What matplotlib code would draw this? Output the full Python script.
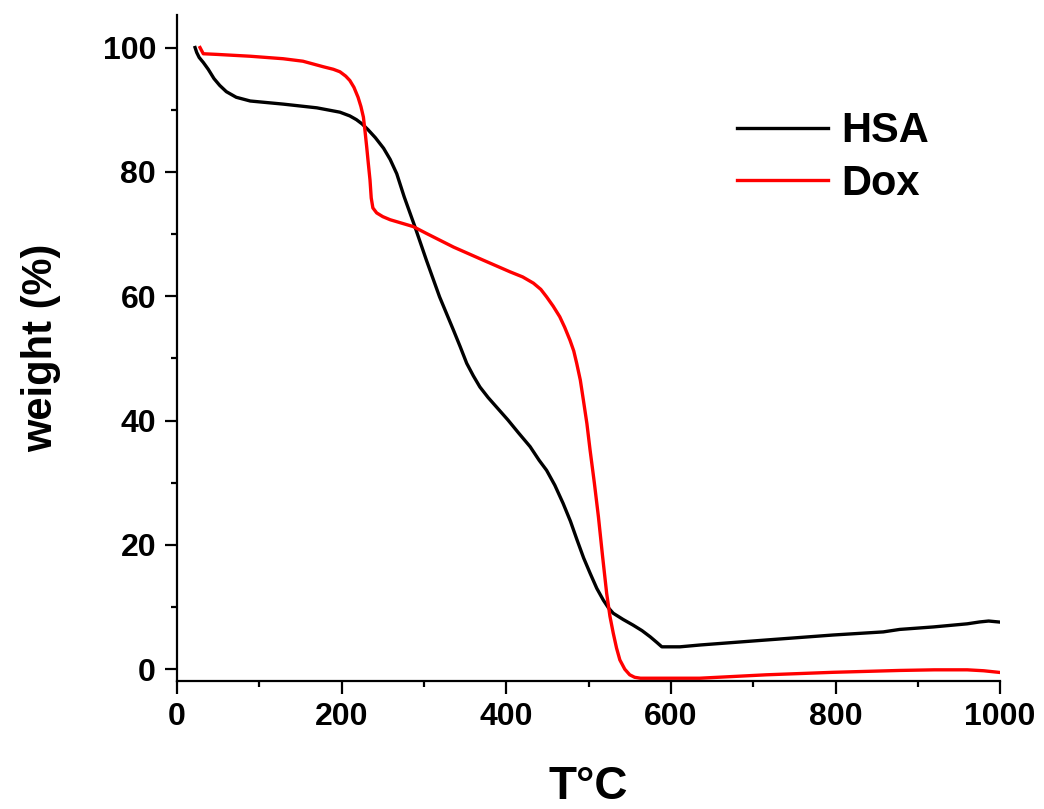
import matplotlib
matplotlib.use('Agg')
import matplotlib.pyplot as plt
from matplotlib.ticker import MultipleLocator

# TGA curves
hsa_t = [22, 24, 27, 32, 38, 45, 52, 60, 72, 89, 129, 170, 198, 210, 218, 225,
         232, 241, 251, 259, 267, 276, 289, 303, 319, 336, 344, 352, 360, 368,
         378, 388, 402, 415, 429, 440, 449, 459, 469, 478, 486, 494, 502, 510,
         518, 524, 530, 542, 554, 565, 575, 583, 589, 600, 611, 636, 716, 797,
         858, 878, 919, 960, 975, 986, 998]
hsa_w = [100, 99.2, 98.4, 97.6, 96.5, 95.0, 93.9, 92.9, 92.0, 91.4, 90.9, 90.3,
         89.6, 89.0, 88.4, 87.7, 86.8, 85.5, 83.8, 82.0, 79.7, 76.0, 71.2, 65.8,
         59.9, 54.5, 51.9, 49.2, 47.2, 45.4, 43.7, 42.2, 40.1, 38.0, 35.8, 33.6,
         32.0, 29.6, 26.7, 23.8, 20.8, 17.9, 15.4, 13.0, 11.1, 9.9, 9.0, 8.0, 7.1,
         6.2, 5.2, 4.3, 3.6, 3.6, 3.6, 3.9, 4.7, 5.5, 6.0, 6.4, 6.8, 7.3, 7.6,
         7.75, 7.6]

dox_t = [28, 32, 48, 89, 129, 153, 178, 190, 198, 205, 210, 215, 220, 223.5,
         226.5, 228.5, 230.5, 232.5, 234.5, 236, 238, 242.6, 250, 259, 287, 303,
         336, 372, 405, 420, 433, 442, 449, 457, 465, 471, 477.5, 482, 485.6,
         490, 493.7, 498, 501.8, 507, 512, 517, 522, 526, 530, 534, 538, 544,
         550, 556, 563, 611, 635, 716, 797, 878, 920, 960, 980, 998]
dox_w = [100, 99.0, 98.9, 98.6, 98.2, 97.8, 96.9, 96.5, 96.1, 95.4, 94.7, 93.6,
         92.0, 90.5, 88.8, 86.5, 84.0, 81.3, 78.7, 75.8, 74.2, 73.4, 72.8, 72.3,
         71.2, 70.1, 67.9, 65.8, 63.9, 63.1, 62.1, 61.1, 59.9, 58.4, 56.7, 55.0,
         52.9, 51.2, 49.2, 46.5, 43.3, 39.5, 35.3, 30.0, 24.5, 18.2, 12.2, 8.5,
         5.8, 3.4, 1.5, 0.0, -0.9, -1.3, -1.45, -1.45, -1.45, -0.9, -0.5, -0.2,
         -0.1, -0.1, -0.25, -0.5]

plt.rcParams['font.family'] = ['Liberation Sans', 'DejaVu Sans']
plt.rcParams['font.weight'] = 'bold'

fig = plt.figure(figsize=(10.44, 8.09), dpi=100)
ax = fig.add_axes([0.1695, 0.1582, 0.7885, 0.823])

ax.plot(hsa_t, hsa_w, color='black', lw=2.4, label='HSA')
ax.plot(dox_t, dox_w, color='red', lw=2.4, label='Dox')

ax.set_xlim(0, 1000)
ax.set_ylim(-1.9, 105.2)
ax.xaxis.set_major_locator(MultipleLocator(200))
ax.xaxis.set_minor_locator(MultipleLocator(100))
ax.yaxis.set_major_locator(MultipleLocator(20))
ax.yaxis.set_minor_locator(MultipleLocator(10))

for s in ['top', 'right']:
    ax.spines[s].set_visible(False)
for s in ['left', 'bottom']:
    ax.spines[s].set_linewidth(1.6)

ax.tick_params(which='major', direction='out', length=9, width=1.6,
               labelsize=23, pad=6)
ax.tick_params(which='minor', direction='out', length=4.5, width=1.6)
for lab in ax.get_xticklabels() + ax.get_yticklabels():
    lab.set_fontweight('bold')

ax.set_xlabel('T°C', fontsize=33, fontweight='bold', labelpad=24)
ax.set_ylabel('weight (%)', fontsize=30, fontweight='bold', labelpad=30)

leg = ax.legend(loc='upper left', bbox_to_anchor=(0.68, 0.856), frameon=False,
                fontsize=30, handlelength=2.2, handletextpad=0.3,
                labelspacing=0.3, borderpad=0, borderaxespad=0)
for t in leg.get_texts():
    t.set_fontweight('bold')

fig.savefig('out.png', dpi=100, facecolor='white')
